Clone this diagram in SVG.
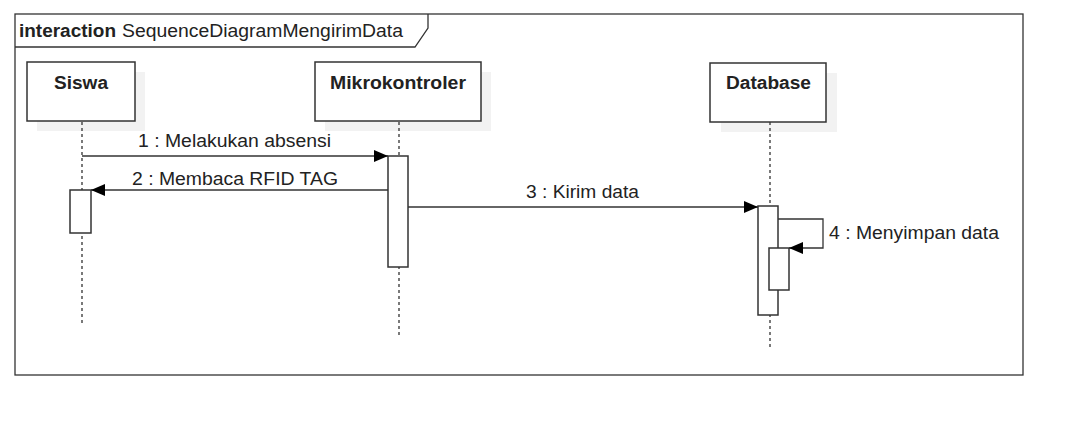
<svg xmlns="http://www.w3.org/2000/svg" width="1083" height="435" viewBox="0 0 1083 435">
<style>
.t{font-family:"Liberation Sans",Arial,sans-serif;font-size:17.5px;fill:#222}
.b{font-weight:bold}
.box{fill:#fff;stroke:#333;stroke-width:1.5}
.sh{fill:#f2f2f2;stroke:none}
.ll{stroke:#333;stroke-width:1.3;stroke-dasharray:3 3;fill:none}
.act{fill:#fff;stroke:#333;stroke-width:1.5}
.msg{stroke:#333;stroke-width:1.3;fill:none}
</style>
<defs>
<marker id="ah" viewBox="0 0 14 12" refX="14" refY="6" markerWidth="14" markerHeight="12" markerUnits="userSpaceOnUse" orient="auto">
<path d="M0,0 L14,6 L0,12 Z" fill="#000"/>
</marker>
</defs>
<rect width="1083" height="435" fill="#fff"/>
<g id="frame">
<rect x="15" y="14" width="1008" height="361" fill="none" stroke="#333" stroke-width="1.3"/>
<path d="M15,47 L415,47 L428,28 L428,14" fill="none" stroke="#333" stroke-width="1.3"/>
<text class="t b" x="19" y="37" textLength="97" lengthAdjust="spacingAndGlyphs">interaction</text>
<text class="t" x="122" y="37" textLength="281" lengthAdjust="spacingAndGlyphs">SequenceDiagramMengirimData</text>
</g>
<g id="siswa">
<rect class="sh" x="37" y="72" width="108" height="59"/>
<rect class="box" x="27" y="62" width="108" height="59"/>
<text class="t b" x="54" y="89" textLength="54" lengthAdjust="spacingAndGlyphs">Siswa</text>
<line class="ll" x1="82" y1="122" x2="82" y2="325"/>
<rect class="act" x="70" y="190" width="21" height="43"/>
</g>
<g id="mikrokontroler">
<rect class="sh" x="325" y="72" width="166" height="59"/>
<rect class="box" x="315" y="62" width="166" height="59"/>
<text class="t b" x="330" y="89" textLength="136" lengthAdjust="spacingAndGlyphs">Mikrokontroler</text>
<line class="ll" x1="399" y1="122" x2="399" y2="335"/>
<rect class="act" x="388" y="156" width="20" height="111"/>
</g>
<g id="database">
<rect class="sh" x="721" y="73" width="116" height="59"/>
<rect class="box" x="710" y="63" width="116" height="59"/>
<text class="t b" x="726" y="89" textLength="85" lengthAdjust="spacingAndGlyphs">Database</text>
<line class="ll" x1="770" y1="122" x2="770" y2="350"/>
<rect class="act" x="758" y="206" width="20" height="109"/>
<rect class="act" x="769" y="248" width="20" height="42"/>
</g>
<g id="connectors">
<line class="msg" x1="82" y1="156" x2="388" y2="156" marker-end="url(#ah)"/>
<text class="t" x="138" y="147" textLength="193" lengthAdjust="spacingAndGlyphs">1 : Melakukan absensi</text>
<line class="msg" x1="388" y1="190" x2="91" y2="190" marker-end="url(#ah)"/>
<text class="t" x="132" y="185" textLength="206" lengthAdjust="spacingAndGlyphs">2 : Membaca RFID TAG</text>
<line class="msg" x1="408" y1="207" x2="758" y2="207" marker-end="url(#ah)"/>
<text class="t" x="526" y="198" textLength="113" lengthAdjust="spacingAndGlyphs">3 : Kirim data</text>
<path class="msg" d="M778,219 L823,219 L823,248 L789,248" marker-end="url(#ah)"/>
<text class="t" x="829" y="239" textLength="170" lengthAdjust="spacingAndGlyphs">4 : Menyimpan data</text>
</g>
</svg>
